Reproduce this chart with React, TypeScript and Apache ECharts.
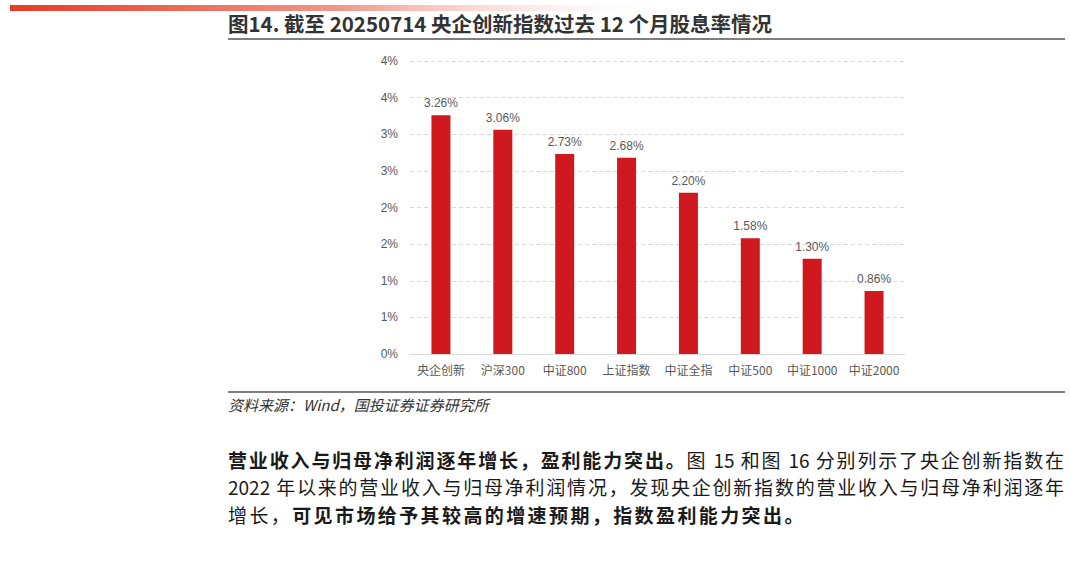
import React, { useEffect, useRef } from 'react';
import * as echarts from 'echarts';

// Index names on the x axis
const categories = ['央企创新', '沪深300', '中证800', '上证指数', '中证全指', '中证500', '中证1000', '中证2000'];
// Dividend yield over the past 12 months (%)
const yields = [3.26, 3.06, 2.73, 2.68, 2.2, 1.58, 1.3, 0.86];
// Y axis range and step (labels are rounded to whole percents, as in the source)
const yMin = 0;
const yMax = 4;
const yStep = 0.5;

const titleText = '图14. 截至 20250714 央企创新指数过去 12 个月股息率情况';
const sourceText = '资料来源：Wind，国投证券证券研究所';

const CJK = '"Noto Sans CJK SC", "Noto Sans", sans-serif';
const BAR_RED = '#d0181f';

const App: React.FC = () => {
  const chartRef = useRef<HTMLDivElement>(null);

  useEffect(() => {
    document.body.style.margin = '0';
    if (!chartRef.current) return;
    const chart = echarts.init(chartRef.current, null, { renderer: 'svg' });

    const option: echarts.EChartsOption = {
      animation: false,
      backgroundColor: '#fff',
      textStyle: { fontFamily: CJK },
      grid: { left: 410, right: 165, top: 61, bottom: 215, containLabel: false },
      xAxis: {
        type: 'category',
        data: categories,
        axisLine: { lineStyle: { color: '#d9d9d9', width: 1 } },
        axisTick: { show: false },
        axisLabel: { color: '#595959', fontSize: 12, margin: 9, interval: 0 },
      },
      yAxis: {
        type: 'value',
        min: yMin,
        max: yMax,
        interval: yStep,
        axisLine: { show: false },
        axisTick: { show: false },
        axisLabel: {
          color: '#595959',
          fontSize: 12,
          margin: 12,
          fontFamily: 'Arial, "Liberation Sans", sans-serif',
          formatter: (v: number) => `${Math.round(v)}%`,
        },
        splitLine: { lineStyle: { color: '#d9d9d9', type: [4, 3], width: 1 } },
      },
      series: [
        {
          type: 'bar',
          data: yields,
          barWidth: 19,
          itemStyle: { color: BAR_RED },
          label: {
            show: true,
            position: 'top',
            distance: 6,
            color: '#595959',
            fontSize: 12,
            fontFamily: 'Arial, "Liberation Sans", sans-serif',
            formatter: (p: any) => `${Number(p.value).toFixed(2)}%`,
          },
        },
      ],
      graphic: [
        {
          type: 'rect',
          left: 10,
          top: 5,
          shape: { width: 670, height: 6 },
          style: {
            fill: new echarts.graphic.LinearGradient(0, 0, 1, 0, [
              { offset: 0, color: '#e53b24' },
              { offset: 0.5, color: '#f09a8c' },
              { offset: 1, color: 'rgba(255,255,255,0)' },
            ]),
          },
        },
        {
          type: 'text',
          left: 228,
          top: 13,
          style: {
            text: titleText,
            fill: '#333',
            font: `bold 20.5px ${CJK}`,
          },
        },
        {
          type: 'rect',
          left: 228,
          top: 38,
          shape: { width: 837, height: 2 },
          style: { fill: '#7f7f7f' },
        },
        {
          type: 'rect',
          left: 228,
          top: 391,
          shape: { width: 837, height: 2 },
          style: { fill: '#7f7f7f' },
        },
        {
          type: 'text',
          left: 228,
          top: 397,
          style: {
            text: sourceText,
            fill: '#333',
            font: `italic 15px ${CJK}`,
          },
        },
      ],
    };

    chart.setOption(option);
    return () => {
      chart.dispose();
    };
  }, []);

  const para: React.CSSProperties = {
    position: 'absolute',
    left: 228,
    width: 836,
    fontFamily: CJK,
    fontSize: 19,
    lineHeight: '27px',
    color: '#1a1a1a',
    whiteSpace: 'nowrap',
  };
  const justified: React.CSSProperties = { ...para, textAlign: 'justify', textAlignLast: 'justify' };

  return (
    <div style={{ position: 'fixed', left: 0, top: 0, width: 1070, height: 569, background: '#fff', overflow: 'hidden' }}>
      <div ref={chartRef} style={{ position: 'absolute', left: 0, top: 0, width: 1070, height: 569 }} />
      <div lang="zh" style={{ ...justified, top: 446 }}>
        <b>营业收入与归母净利润逐年增长，盈利能力突出。</b>图 15 和图 16 分别列示了央企创新指数在
      </div>
      <div lang="zh" style={{ ...justified, top: 473 }}>
        2022 年以来的营业收入与归母净利润情况，发现央企创新指数的营业收入与归母净利润逐年
      </div>
      <div lang="zh" style={{ ...para, top: 501, letterSpacing: 2.4 }}>
        增长，<b>可见市场给予其较高的增速预期，指数盈利能力突出。</b>
      </div>
    </div>
  );
};

export default App;
